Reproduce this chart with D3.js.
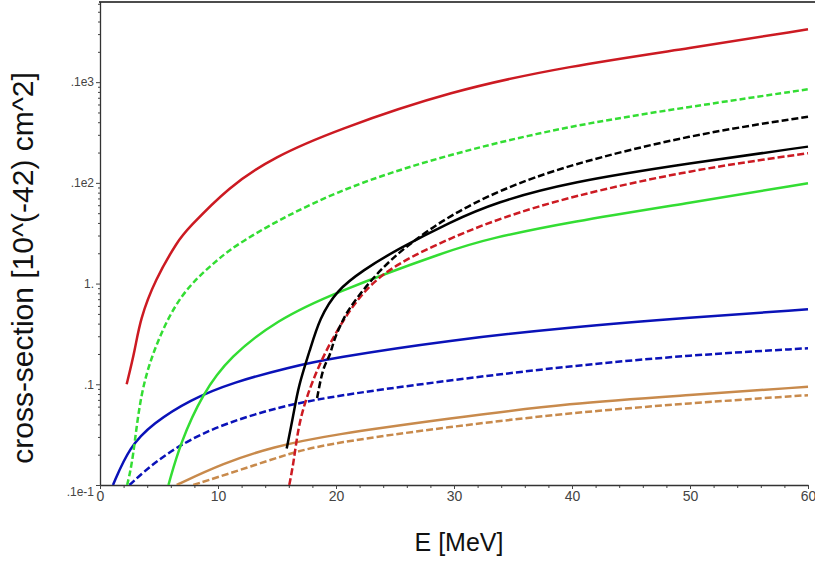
<!DOCTYPE html>
<html>
<head>
<meta charset="utf-8">
<script src="https://cdn.jsdelivr.net/npm/d3@7"></script>
<style>
  body { margin: 0; background: #fff; }
  svg text { font-family: Arial, "Liberation Sans", sans-serif; }
</style>
</head>
<body>
<div id="chart"></div>
<script>
// energies [MeV] and cross-sections [10^-42 cm^2]
var redSolidE = [2.26, 2.97, 3.4, 4.66, 6.64, 7.35, 10.9, 14.8, 19.9, 29.7, 39.8, 50, 60];
var redSolidV = [0.1, 0.22, 0.44, 1.09, 2.71, 3.4, 9.16, 18.2, 33, 82, 145, 217, 335];

var greenDashE = [2.3, 2.8, 3.4, 4.7, 6.8, 9.75, 12, 19.9, 29.7, 39.8, 50, 60];
var greenDashV = [0.01, 0.0177, 0.081, 0.25, 0.8, 1.65, 2.7, 8.5, 19.5, 37, 57, 85];

var greenSolidE = [5.8, 6.8, 8.7, 11, 15, 19.7, 29.7, 33, 39.8, 50, 60];
var greenSolidV = [0.01, 0.026, 0.081, 0.188, 0.434, 0.8, 2.16, 2.8, 4.1, 6.35, 9.9];

var blackSolidE = [15.82, 16.4, 16.8, 17.8, 18.6, 20.06, 22.3, 25.1, 29.7, 33.5, 39.8, 50, 60];
var blackSolidV = [0.023, 0.05, 0.095, 0.22, 0.45, 0.86, 1.36, 2.16, 4.1, 6.4, 10.2, 15.7, 22.9];

var blackDashE = [18.4, 18.9, 19.5, 19.8, 20.6, 21.2, 23.4, 26, 29.7, 33.9, 39.6, 50, 60];
var blackDashV = [0.073, 0.15, 0.19, 0.275, 0.44, 0.59, 1.26, 2.4, 4.8, 8.5, 15, 30, 45.4];

var redDashE = [16.04, 16.4, 16.8, 17.5, 18.6, 20.1, 22.3, 25.1, 29.9, 33.9, 39.8, 50, 60];
var redDashV = [0.01, 0.0164, 0.038, 0.075, 0.16, 0.35, 0.86, 1.58, 2.9, 4.45, 7.3, 13.4, 19.7];

var blueSolidE = [1.1, 2.5, 4.5, 7.6, 11.3, 16.1, 19.5, 29.7, 39.8, 50, 60];
var blueSolidV = [0.01, 0.024, 0.041, 0.07, 0.105, 0.148, 0.181, 0.275, 0.368, 0.46, 0.556];

var blueDashE = [2.5, 4.8, 8.5, 13.3, 18.4, 29.7, 39.8, 50, 60];
var blueDashV = [0.01, 0.0177, 0.033, 0.052, 0.073, 0.11, 0.152, 0.195, 0.228];

var tanSolidE = [6.5, 10.4, 14.7, 19.5, 29.7, 39.8, 50, 60];
var tanSolidV = [0.01, 0.0164, 0.024, 0.0314, 0.046, 0.065, 0.078, 0.0946];

var tanDashE = [7.9, 11.9, 16.1, 19.5, 29.7, 39.8, 50, 60];
var tanDashV = [0.01, 0.0141, 0.0207, 0.026, 0.038, 0.052, 0.065, 0.078];

// tick labels as printed on the plot
var xTicks = [0, 10, 20, 30, 40, 50, 60];
var yTicks = [0.01, 0.1, 1, 10, 100];
var yTickLabels = [".1e-1", ".1", "1.", ".1e2", ".1e3"];

var W = 815, H = 561;
var plotLeft = 100, plotRight = 808, plotTop = 2, plotBottom = 485;

var x = d3.scaleLinear().domain([0, 60]).range([plotLeft, plotRight]);
var y = d3.scaleLog().domain([0.01, 625]).range([plotBottom, plotTop]);

var series = [
  { e: tanSolidE, v: tanSolidV, color: "#c88a4c", dash: null },
  { e: tanDashE, v: tanDashV, color: "#c88a4c", dash: "7,3" },
  { e: blueSolidE, v: blueSolidV, color: "#0a12b8", dash: null },
  { e: blueDashE, v: blueDashV, color: "#0a12b8", dash: "7,3" },
  { e: greenSolidE, v: greenSolidV, color: "#33dd33", dash: null },
  { e: greenDashE, v: greenDashV, color: "#33dd33", dash: "6,3" },
  { e: redDashE, v: redDashV, color: "#cc1a22", dash: "7,3" },
  { e: blackDashE, v: blackDashV, color: "#000", dash: "7,3" },
  { e: blackSolidE, v: blackSolidV, color: "#000", dash: null },
  { e: redSolidE, v: redSolidV, color: "#cc1a22", dash: null }
];

var svg = d3.select("#chart")
  .append("svg")
  .attr("width", W)
  .attr("height", H);

svg.append("defs").append("clipPath")
  .attr("id", "plot-clip")
  .append("rect")
  .attr("x", plotLeft).attr("y", plotTop)
  .attr("width", plotRight - plotLeft + 4).attr("height", plotBottom - plotTop);

// minor ticks
var minorY = [];
[0.01, 0.1, 1, 10, 100].forEach(function (dec) {
  for (var k = 2; k <= 9; k++) {
    if (dec * k < 625) minorY.push(dec * k);
  }
});
var minorX = d3.range(0, 61, 2).filter(function (d) { return d % 10 !== 0; });

svg.append("g")
  .attr("transform", "translate(" + plotLeft + ",0)")
  .call(d3.axisLeft(y).tickValues(minorY).tickFormat("").tickSize(2).tickSizeOuter(0))
  .call(function (g) { g.select(".domain").remove(); });

svg.append("g")
  .attr("transform", "translate(0," + plotBottom + ")")
  .call(d3.axisBottom(x).tickValues(minorX).tickFormat("").tickSize(3).tickSizeOuter(0))
  .call(function (g) { g.select(".domain").remove(); });

// main axes
var yAxis = svg.append("g")
  .attr("transform", "translate(" + plotLeft + ",0)")
  .call(d3.axisLeft(y).tickValues(yTicks)
    .tickFormat(function (d, i) { return yTickLabels[i]; })
    .tickSize(4).tickSizeOuter(0).tickPadding(2));

yAxis.selectAll("text")
  .style("font-size", "12px")
  .attr("fill", "#444");

// the lowest label sits a little under its tick
yAxis.selectAll(".tick text")
  .filter(function (d) { return d === 0.01; })
  .attr("dy", "0.9em");

var xAxis = svg.append("g")
  .attr("transform", "translate(0," + plotBottom + ")")
  .call(d3.axisBottom(x).tickValues(xTicks).tickSize(4).tickSizeOuter(0).tickPadding(2));

xAxis.selectAll("text")
  .style("font-size", "14px")
  .attr("fill", "#444");

svg.selectAll(".tick line").attr("stroke", "#444");
svg.selectAll(".domain").attr("stroke", "#333").attr("stroke-width", 1.3);

// frame line along the top
svg.append("line")
  .attr("x1", plotLeft - 1).attr("x2", W)
  .attr("y1", plotTop).attr("y2", plotTop)
  .attr("stroke", "#111")
  .attr("stroke-width", 1.5);

// curves
var line = d3.line()
  .x(function (d) { return x(d[0]); })
  .y(function (d) { return y(d[1]); })
  .curve(d3.curveBasis);

svg.append("g")
  .attr("clip-path", "url(#plot-clip)")
  .selectAll("path")
  .data(series)
  .enter()
  .append("path")
  .attr("fill", "none")
  .attr("stroke", function (d) { return d.color; })
  .attr("stroke-width", 2.5)
  .attr("stroke-dasharray", function (d) { return d.dash; })
  .attr("d", function (d) {
    return line(d.e.map(function (e, i) { return [e, d.v[i]]; }));
  });

// axis titles
svg.append("text")
  .attr("transform", "translate(33,268) rotate(-90)")
  .attr("text-anchor", "middle")
  .style("font-size", "30px")
  .attr("fill", "#111")
  .text("cross-section [10^(-42) cm^2]");

svg.append("text")
  .attr("x", 459)
  .attr("y", 551)
  .attr("text-anchor", "middle")
  .style("font-size", "25px")
  .attr("fill", "#111")
  .text("E [MeV]");
</script>
</body>
</html>
